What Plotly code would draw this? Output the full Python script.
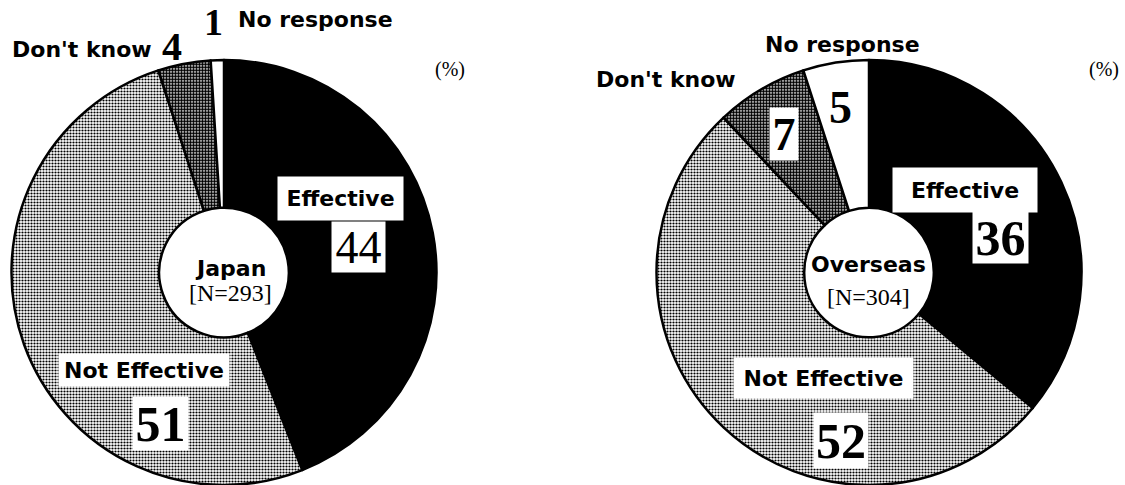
import plotly.graph_objects as go

# Survey shares (%) for the two respondent groups
categories = ["Effective", "Not Effective", "Don't know", "No response"]
japan_values = [44, 51, 4, 1]
overseas_values = [36, 52, 7, 5]
japan_n = 293
overseas_n = 304

W, H = 1125, 485

SANS = "DejaVu Sans"
SERIF = "Liberation Serif"

# slice fills: solid black, light halftone, dark halftone, blank
slice_colors = ["black", "white", "white", "white"]
pattern = dict(
    shape=["", ".", ".", ""],
    fgcolor="black",
    size=[3, 3, 3, 3],
    solidity=[0.3, 0.42, 0.7, 0.3],
)


def px_x(x):
    return x / W


def px_y(y):
    return 1 - y / H


def pie_domain(cx, top, r):
    return dict(x=[px_x(cx - r), px_x(cx + r)], y=[px_y(top + 2 * r), px_y(top)])


R = 212.5
fig = go.Figure()
for vals, cx in ((japan_values, 224), (overseas_values, 869)):
    fig.add_trace(go.Pie(
        labels=categories,
        values=vals,
        sort=False,
        direction="clockwise",
        rotation=0,
        hole=0.305,
        textinfo="none",
        hoverinfo="label+value",
        marker=dict(colors=slice_colors, pattern=pattern,
                    line=dict(color="black", width=2.5)),
        domain=pie_domain(cx, 60, R),
        showlegend=False,
    ))


def label(text, x, y, size, font=SANS, bold=True, box=None):
    a = dict(text=text, x=px_x(x), y=px_y(y), xref="paper", yref="paper",
             xanchor="center", yanchor="middle", showarrow=False,
             font=dict(family=font, size=size, color="black",
                       weight="bold" if bold else "normal"))
    if box:
        a.update(bgcolor="white", width=box[0], height=box[1], borderpad=0,
                 align="center", valign="middle")
    fig.add_annotation(**a)


def v(vals, name):
    return str(vals[categories.index(name)])


# Japan
label("Don't know", 82, 50, 22)
label(v(japan_values, "Don't know"), 172, 46, 40, SERIF)
label(v(japan_values, "No response"), 214, 22, 38, SERIF)
label("No response", 315, 20, 22)
label("(%)", 450, 70, 20, SERIF, bold=False)
label("Effective", 340, 198, 22, box=(125, 43))
label(v(japan_values, "Effective"), 358, 247, 46, SERIF, bold=False, box=(53, 50))
label("Japan", 230, 268, 22)
label(f"[N={japan_n}]", 230, 293, 24, SERIF, bold=False)
label("Not Effective", 144, 370, 22, box=(170, 32))
label(v(japan_values, "Not Effective"), 160, 423, 50, SERIF, box=(55, 53))

# Overseas
label("No response", 842, 44, 22)
label("Don't know", 666, 80, 22)
label("(%)", 1104, 70, 20, SERIF, bold=False)
label(v(overseas_values, "No response"), 840, 107, 46, SERIF)
label(v(overseas_values, "Don't know"), 784, 134, 46, SERIF, box=(28, 52))
label("Effective", 965, 190, 22, box=(144, 44))
label(v(overseas_values, "Effective"), 1000, 237, 50, SERIF, box=(55, 51))
label("Overseas", 868, 264, 22)
label(f"[N={overseas_n}]", 868, 297, 24, SERIF, bold=False)
label("Not Effective", 823, 378, 22, box=(179, 40))
label(v(overseas_values, "Not Effective"), 841, 440, 50, SERIF, box=(54, 55))

fig.update_layout(
    width=W, height=H,
    margin=dict(l=0, r=0, t=0, b=0),
    paper_bgcolor="white",
    plot_bgcolor="white",
)

fig.write_html("out.html")
